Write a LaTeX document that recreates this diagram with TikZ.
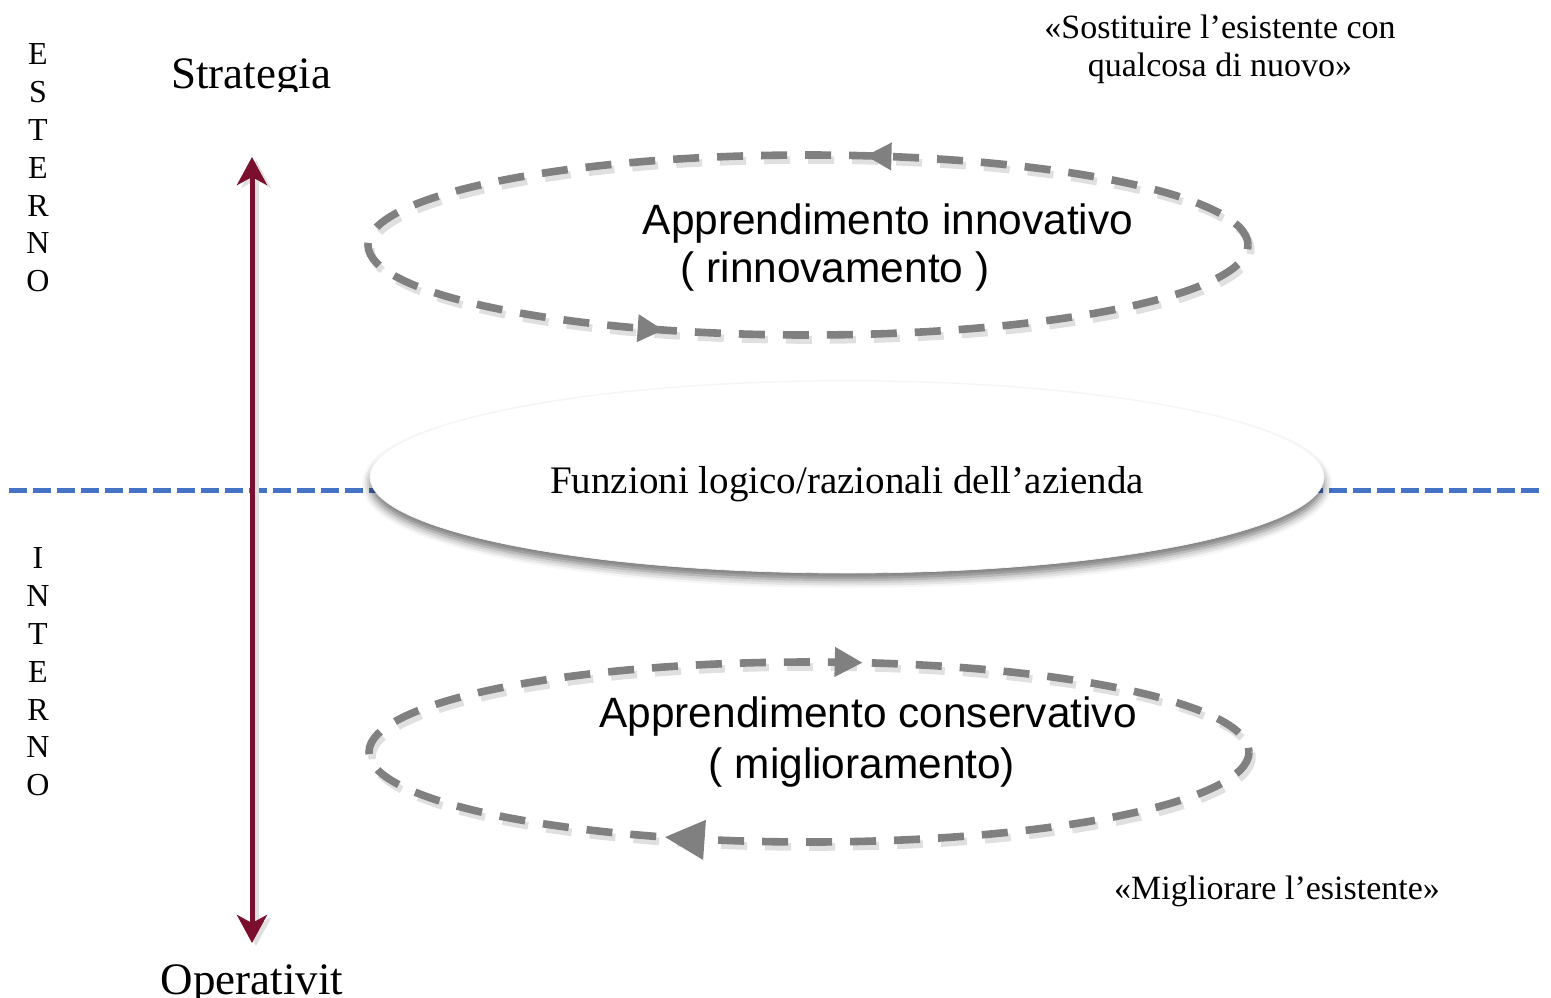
\documentclass[tikz,border=0pt]{standalone}
\usepackage{fontspec}
\setmainfont{Liberation Serif}
\newfontfamily\arialfont{Liberation Sans}
\usetikzlibrary{arrows.meta,decorations.markings,shapes.geometric,shadows.blur}
\definecolor{bordeaux}{HTML}{7A0F2E}
\definecolor{loopgray}{HTML}{808080}
\definecolor{lineblue}{HTML}{4472C4}

\begin{document}
\begin{tikzpicture}[x=0.5pt,y=-0.5pt,
  letters/.style={align=center, font=\fontsize{16}{18.9}\selectfont},
  pole/.style={anchor=base, font=\fontsize{22.5}{27}\selectfont},
  quote/.style={align=center, font=\fontsize{17}{19}\selectfont},
  learn/.style={font=\arialfont\fontsize{21.2}{24}\selectfont},
  loop/.style={loopgray, line width=3.8pt, dash pattern=on 13pt off 9pt,
    preaction={draw=black!12, line width=3.8pt, dash pattern=on 13pt off 9pt,
      transform canvas={shift={(1.5pt,-2.5pt)}}}},
  axis/.style={bordeaux, line width=2.5pt, {Stealth[length=14pt,width=15pt,inset=4pt]}-{Stealth[length=14pt,width=15pt,inset=4pt]},
    preaction={draw=black!12, line width=2.5pt, transform canvas={shift={(2pt,-1.5pt)}}}}]
  \useasboundingbox (0,0) rectangle (1551,997);

  % esterno / interno
  \node[letters] (est) at (38,168) {E\\S\\T\\E\\R\\N\\O};
  \node[letters] (int) at (38,672) {I\\N\\T\\E\\R\\N\\O};

  % strategia / operativita
  \begin{scope}
    \clip (100,0) rectangle (400,91);
    \node[pole] (strat) at (251,88) {Strategia};
  \end{scope}
  \node[pole] (oper) at (252,994) {Operativit};

  % linea blu
  \coordinate (west) at (9,490);
  \coordinate (east) at (1540,490);
  \draw[lineblue, line width=2.5pt, dash pattern=on 9pt off 3pt] (west) -- (east);

  % asse verticale
  \coordinate (up) at (252,157);
  \coordinate (down) at (252,943);
  \draw[axis] (down) -- (up);

  % funzioni logico/razionali
  \node[ellipse, fill=white, draw=black!4, minimum width=954*0.5pt, minimum height=192*0.5pt,
    blur shadow={shadow xshift=0pt, shadow yshift=-3.5pt, shadow blur radius=4pt, shadow opacity=55}]
    (funz) at (847,477) {};
  \node[font=\fontsize{19.5}{22}\selectfont] (funztxt) at (847,484) {Funzioni logico/razionali dell’azienda};

  % apprendimento innovativo
  \draw[loop, postaction={decorate, decoration={markings,
      mark=at position 0.219 with {\arrow{Triangle[length=13pt,width=13pt]}},
      mark=at position 0.672 with {\arrow{Triangle[length=13pt,width=13pt]}}}}]
    (1248,245) arc[start angle=0, end angle=-360, x radius=440, y radius=90];
  \node[learn] (innov) at (888,224) {Apprendimento innovativo};
  \node[learn] (rinnov) at (835,272) {( rinnovamento )};

  % apprendimento conservativo
  \draw[loop, postaction={decorate, decoration={markings,
      mark=at position 0.328 with {\arrow{Triangle[length=20pt,width=19pt]}},
      mark=at position 0.779 with {\arrow{Triangle[length=14pt,width=14pt]}}}}]
    (1249,752) arc[start angle=0, end angle=360, x radius=440, y radius=90];
  \node[learn] (cons) at (868,717) {Apprendimento conservativo};
  \node[learn] (migl) at (862,768) {( miglioramento)};

  % citazioni
  \node[quote] (sost) at (1220,49) {«Sostituire l’esistente con\\qualcosa di nuovo»};
  \node[quote] (miglq) at (1277,891) {«Migliorare l’esistente»};
\end{tikzpicture}
\end{document}
